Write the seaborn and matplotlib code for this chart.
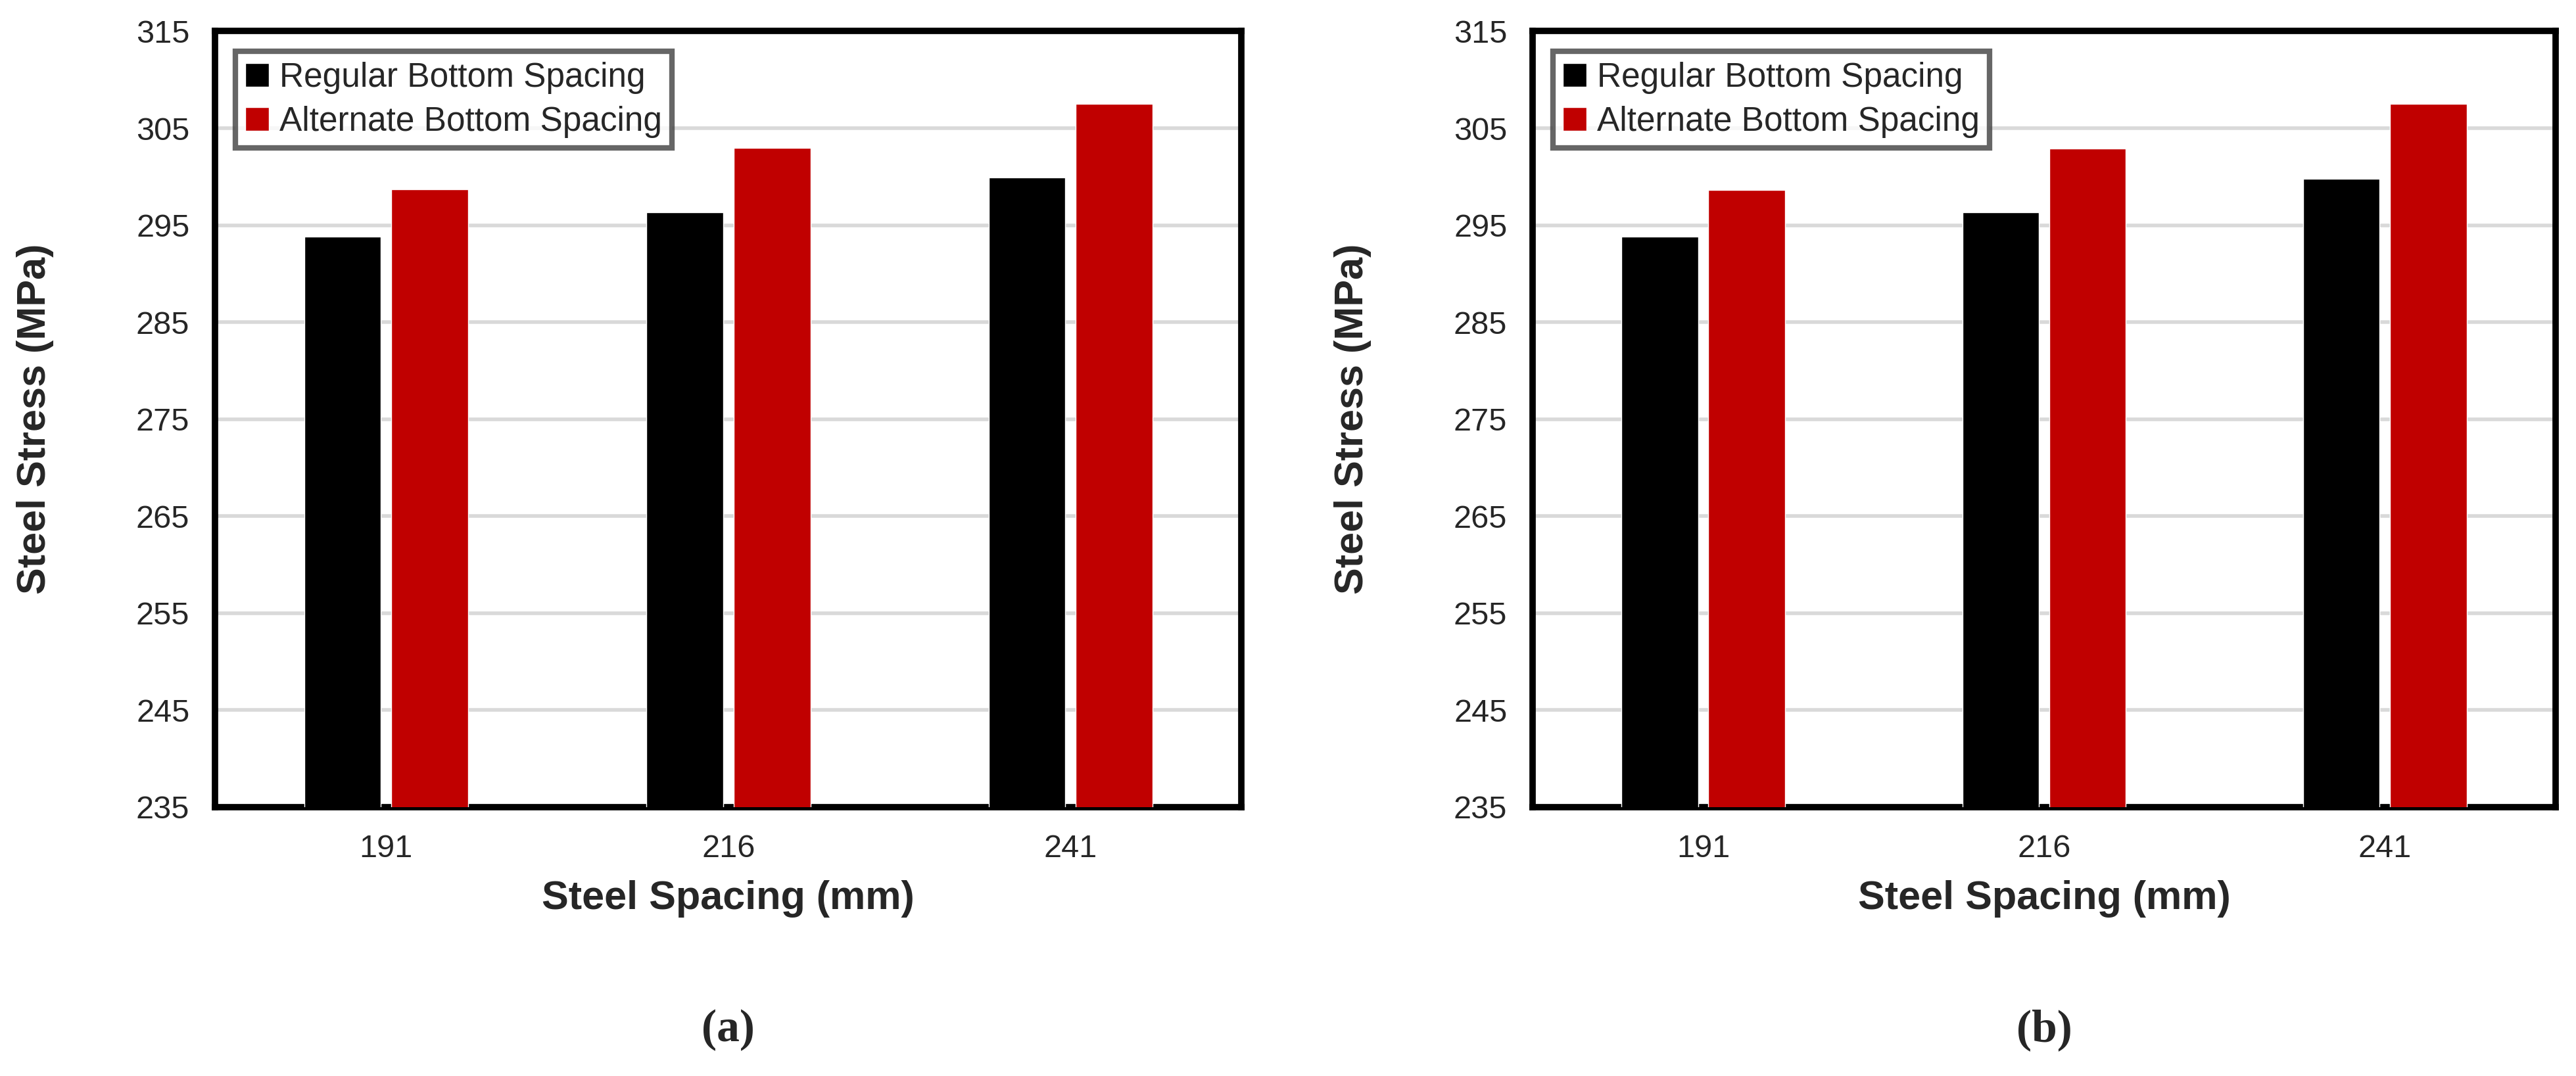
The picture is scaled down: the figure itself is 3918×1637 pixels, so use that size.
import numpy as np
import pandas as pd
import matplotlib as mpl
import matplotlib.pyplot as plt
import seaborn as sns

sns.set_style("white")
mpl.rcParams['font.family'] = ['Liberation Sans', 'DejaVu Sans']

spacing = ["191", "216", "241"]
series = ["Regular Bottom Spacing", "Alternate Bottom Spacing"]
regular_a = [293.8, 296.3, 299.9]
alternate_a = [298.7, 303.0, 307.5]
regular_b = [293.8, 296.3, 299.8]
alternate_b = [298.6, 302.9, 307.5]
yticks = [235, 245, 255, 265, 275, 285, 295, 305, 315]
panel_labels = ["a", "b"]

fig = plt.figure(figsize=(39.18, 16.37), dpi=100)
ax_a = fig.add_axes([0.0835, 0.25, 0.3985, 0.721])
ax_b = fig.add_axes([0.595, 0.25, 0.397, 0.721])

for ax, reg, alt, lab in [(ax_a, regular_a, alternate_a, "a"),
                          (ax_b, regular_b, alternate_b, "b")]:
    df = pd.DataFrame({
        "spacing": spacing * 2,
        "stress": reg + alt,
        "series": [series[0]] * 3 + [series[1]] * 3,
    })
    sns.barplot(data=df, x="spacing", y="stress", hue="series",
                palette=["#000000", "#c00000"], width=0.51, gap=0.12,
                saturation=1, ax=ax, zorder=3)
    ax.set_ylim(235, 315)
    ax.set_yticks(yticks)
    ax.yaxis.grid(True, color="#d9d9d9", linewidth=4, zorder=0)
    ax.set_axisbelow(True)
    for s in ax.spines.values():
        s.set_color("black")
        s.set_linewidth(7)
    ax.tick_params(axis="y", direction="in", length=14, width=5,
                   labelsize=35, pad=28)
    ax.tick_params(axis="x", length=0, labelsize=35, pad=30)
    ax.set_xlabel("Steel Spacing (mm)", fontsize=44, fontweight="bold", labelpad=18)
    ax.set_ylabel("Steel Stress (MPa)", fontsize=44, fontweight="bold", labelpad=90)
    leg = ax.legend(loc="upper left", fontsize=37, frameon=True, fancybox=False,
                    handlelength=0.7, handleheight=0.7, handletextpad=0.3,
                    borderpad=0.3, labelspacing=0.35, borderaxespad=0.6)
    leg.get_frame().set_edgecolor("#404040")
    leg.get_frame().set_linewidth(6)
    pos = ax.get_position()
    fig.text((pos.x0 + pos.x1) / 2, 0.043, "(" + lab + ")", ha="center", va="center",
             fontsize=50, family="Liberation Serif", fontweight="bold")

fig.savefig("out.png", dpi=100, facecolor="white")
